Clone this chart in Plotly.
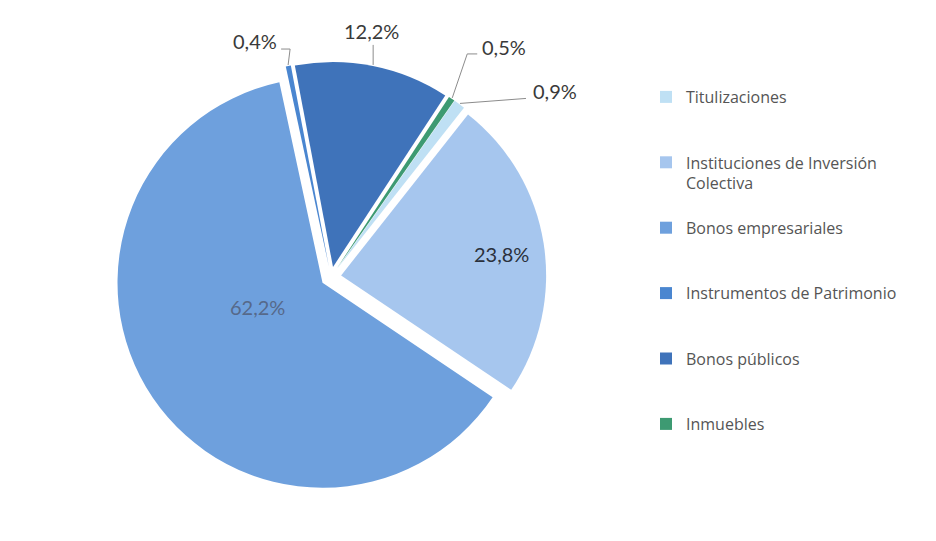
import math
import plotly.graph_objects as go

# ---------------- data ----------------
categories = ["Titulizaciones", "Instituciones de Inversión<br>Colectiva", "Bonos empresariales",
              "Instrumentos de Patrimonio", "Bonos públicos", "Inmuebles"]
values = [0.9, 23.8, 62.2, 0.4, 12.2, 0.5]
colors = ["#BFE0F4", "#A6C6EE", "#6EA0DD", "#4A86D0", "#3F73BA", "#3D9A72"]

# ---------------- layout geometry (screen pixels) ----------------
W, H = 936, 541
OFF = 8                     # page body margin of the written html
CX, CY = 331.0 - OFF, 277.0 - OFF   # pie centre in figure pixels
R = 205.0                   # pie radius
PULL = 0.05
ROT = 35.0                  # first slice starts 35 deg clockwise from 12 o'clock
half = R * (1 + PULL)
dom_x = [(CX - half) / W, (CX + half) / W]
dom_y = [1 - (CY + half) / H, 1 - (CY - half) / H]

# legend labels padded with blank lines to reproduce the wide spacing
leg_pad = ["<br> <br> ", "<br> ", "<br> <br> ", "<br> <br> ", "<br> <br> ", ""]
labels = [c + p for c, p in zip(categories, leg_pad)]


def fmt(v):
    return f"{v:.1f}%".replace(".", ",")


fig = go.Figure(go.Pie(
    labels=labels,
    values=values,
    sort=False,
    direction="clockwise",
    rotation=ROT,
    pull=[PULL] * len(values),
    marker=dict(colors=colors, line=dict(width=0)),
    textinfo="none",
    domain=dict(x=dom_x, y=dom_y),
    hoverinfo="label+percent",
))

# slice mid angles derived from the data
total = sum(values)
cum = 0.0
mids = []
for v in values:
    mids.append(ROT + 360.0 * (cum + v / 2) / total)
    cum += v


def px2paper(x, y):
    return x / W, 1 - y / H


shapes = []
annotations = []
LABEL_FONT = "Lato, sans-serif"

# inside labels: (radius fraction, angle adjust, colour)
inside_style = {
    1: (0.79, 1.5, "#2B313C"),
    2: (0.34, 13.6, "#56698A"),
}
for i, (fr, adj, col) in inside_style.items():
    th = math.radians(mids[i])
    pcx = CX + R * PULL * math.sin(th)
    pcy = CY - R * PULL * math.cos(th)
    a = math.radians(mids[i] + adj)
    x = pcx + fr * R * math.sin(a)
    y = pcy - fr * R * math.cos(a)
    px, py = px2paper(x, y)
    annotations.append(dict(x=px, y=py, xref="paper", yref="paper", text=fmt(values[i]),
                            showarrow=False, xanchor="center", yanchor="middle",
                            font=dict(family=LABEL_FONT, size=20, color=col)))

# outside labels with leader lines for the small slices
# (elbow dx, elbow dy, text dx, text dy) relative to the slice edge
label_style = {
    0: (66, -5, 95, -12),     # 0,9%
    3: (2, -16, -33, -24),    # 0,4%
    4: (0, -20, -2, -34),     # 12,2%
    5: (15, -44, 52, -51),    # 0,5%
}
tails = {0: 0, 3: -9, 4: 0, 5: 10}

for i, (dx_e, dy_e, dx_t, dy_t) in label_style.items():
    th = math.radians(mids[i])
    rr = R * (1 + PULL) + 1
    ex = CX + rr * math.sin(th)
    ey = CY - rr * math.cos(th)
    elx, ely = ex + dx_e, ey + dy_e
    pts = [(ex, ey), (elx, ely)]
    if tails[i]:
        pts.append((elx + tails[i], ely))
    path = "M" + " L".join(f"{x / W},{1 - y / H}" for x, y in pts)
    shapes.append(dict(type="path", path=path, xref="paper", yref="paper",
                       line=dict(color="#8C8C8C", width=1)))
    tx, ty = px2paper(ex + dx_t, ey + dy_t)
    annotations.append(dict(x=tx, y=ty, xref="paper", yref="paper",
                            text=fmt(values[i]), showarrow=False,
                            xanchor="center", yanchor="middle",
                            font=dict(family=LABEL_FONT, size=20, color="#3A3A3A")))

fig.update_layout(
    width=W, height=H,
    margin=dict(l=0, r=0, t=0, b=0),
    paper_bgcolor="white",
    plot_bgcolor="white",
    separators=",.",
    shapes=shapes,
    annotations=annotations,
    showlegend=True,
    legend=dict(
        x=(646 - OFF) / W, y=1 - (80 - OFF) / H, xanchor="left", yanchor="top",
        valign="top",
        font=dict(family="Open Sans, sans-serif", size=16, color="#555555"),
        bgcolor="rgba(0,0,0,0)",
        itemclick=False, itemdoubleclick=False,
    ),
)

fig.write_html("out.html")
